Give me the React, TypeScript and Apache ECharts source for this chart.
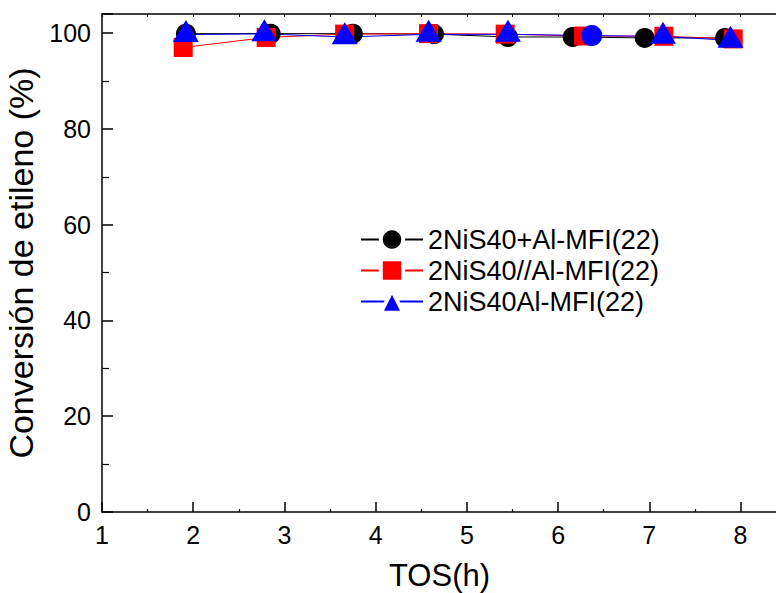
import React, { useEffect, useRef } from "react";
import * as echarts from "echarts";

const seriesNames = ["2NiS40+Al-MFI(22)", "2NiS40//Al-MFI(22)", "2NiS40Al-MFI(22)"];
const blackX = [1.92, 2.85, 3.75, 4.64, 5.45, 6.16, 6.95, 7.83];
const blackY = [99.9, 99.9, 99.9, 99.8, 99.2, 99.2, 99.0, 99.0];
const redX = [1.89, 2.8, 3.66, 4.58, 5.42, 6.28, 7.16, 7.92];
const redY = [97.0, 99.1, 99.8, 99.9, 99.8, 99.4, 99.35, 98.8];
const blueX = [1.92, 2.78, 3.66, 4.58, 5.45, 6.37, 7.15, 7.89];
const blueY = [99.7, 99.85, 99.2, 99.75, 99.75, 99.5, 99.3, 98.5];
const blueSymbols = ["triangle", "triangle", "triangle", "triangle", "triangle", "circle", "triangle", "triangle"];
const xTicks = [1, 2, 3, 4, 5, 6, 7, 8];
const yTicks = [0, 20, 40, 60, 80, 100];

const FONT = "'Liberation Sans', Arial, Helvetica, sans-serif";

export default function App() {
  const ref = useRef<HTMLDivElement>(null);
  useEffect(() => {
    if (!ref.current) return;
    const chart = echarts.init(ref.current, null, { renderer: "svg" });
    const pair = (xs: number[], ys: number[]) => xs.map((x, i) => [x, ys[i]]);
    const blueData = blueX.map((x, i) =>
      blueSymbols[i] === "circle"
        ? { value: [x, blueY[i]], symbol: "circle", symbolSize: 21, symbolOffset: [0, 0] }
        : { value: [x, blueY[i]] }
    );
    const axisLine = { show: true, lineStyle: { color: "#000", width: 1.5 } };
    chart.setOption({
      animation: false,
      backgroundColor: "#fff",
      textStyle: { fontFamily: FONT },
      grid: { left: 102, right: -1, top: 14, bottom: 81, containLabel: false, outerBoundsMode: "none" },
      legend: {
        orient: "vertical",
        left: 355,
        top: 221,
        itemWidth: 62,
        itemHeight: 28,
        itemGap: 4,
        data: seriesNames,
        itemStyle: { borderColor: "#fff", borderWidth: 4 },
        textStyle: { fontSize: 27, color: "#000", fontFamily: FONT },
      },
      xAxis: [
        {
          type: "value",
          min: 1,
          max: 8.4,
          interval: 1,
          position: "bottom",
          name: "TOS(h)",
          nameLocation: "middle",
          nameGap: 48,
          nameTextStyle: { fontSize: 31, color: "#000", fontFamily: FONT },
          axisLine,
          axisTick: { show: true, inside: true, length: 10, lineStyle: { color: "#000", width: 1.5 } },
          minorTick: { show: true, splitNumber: 2, length: 3, lineStyle: { color: "#000", width: 1.2 } },
          axisLabel: {
            fontSize: 25,
            color: "#000",
            margin: 10,
            fontFamily: FONT,
            showMaxLabel: false,
            formatter: (v: number) => (xTicks.includes(v) ? String(v) : ""),
          },
          splitLine: { show: false },
        },
        {
          type: "value",
          min: 1,
          max: 8.4,
          interval: 1,
          position: "top",
          axisLine,
          axisTick: { show: true, inside: true, length: 3, lineStyle: { color: "#000", width: 1 } },
          minorTick: { show: true, splitNumber: 2, length: 3, lineStyle: { color: "#000", width: 1 } },
          axisLabel: { show: false },
          splitLine: { show: false },
        },
      ],
      yAxis: {
        type: "value",
        min: 0,
        max: 104,
        interval: 20,
        name: "Conversión de etileno (%)",
        nameLocation: "middle",
        nameGap: 54,
        nameTextStyle: { fontSize: 34, color: "#000", fontFamily: FONT },
        axisLine,
        axisTick: { show: true, inside: true, length: 11, lineStyle: { color: "#000", width: 1.5 } },
        minorTick: { show: true, splitNumber: 2, length: 7, lineStyle: { color: "#000", width: 1.2 } },
        axisLabel: {
          fontSize: 25,
          color: "#000",
          margin: 11,
          fontFamily: FONT,
          showMaxLabel: false,
          formatter: (v: number) => (yTicks.includes(v) ? String(v) : ""),
        },
        splitLine: { show: false },
      },
      series: [
        {
          name: seriesNames[0],
          type: "line",
          data: pair(blackX, blackY),
          symbol: "circle",
          symbolSize: 20,
          color: "#000",
          lineStyle: { color: "#000", width: 1 },
          itemStyle: { color: "#000" },
        },
        {
          name: seriesNames[1],
          type: "line",
          data: pair(redX, redY),
          symbol: "rect",
          symbolSize: 19,
          color: "#ff0000",
          lineStyle: { color: "#ff0000", width: 1 },
          itemStyle: { color: "#ff0000" },
        },
        {
          name: seriesNames[2],
          type: "line",
          data: blueData,
          symbol: "triangle",
          symbolSize: [26, 22],
          symbolOffset: [0, -3.7],
          color: "#0000ff",
          lineStyle: { color: "#0000ff", width: 1 },
          itemStyle: { color: "#0000ff" },
        },
      ],
    });
    return () => chart.dispose();
  }, []);
  return (
    <div
      ref={ref}
      style={{ position: "fixed", left: 0, top: 0, width: 776, height: 593, background: "#fff" }}
    />
  );
}
